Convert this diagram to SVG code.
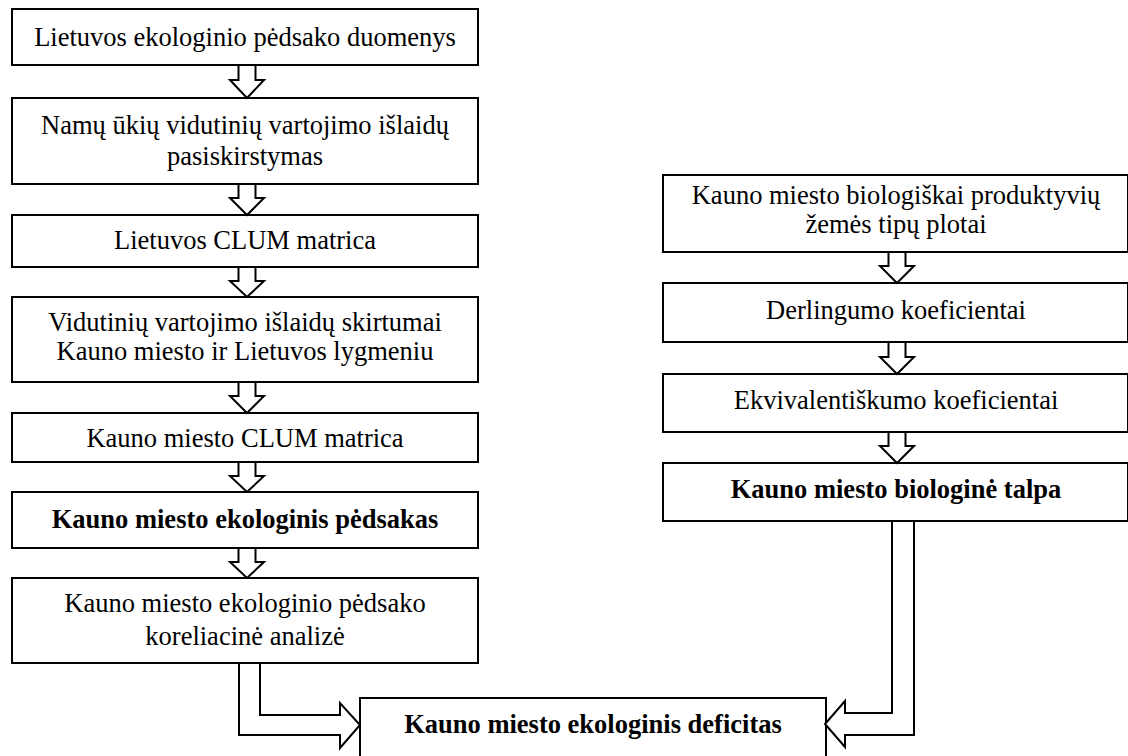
<svg xmlns="http://www.w3.org/2000/svg" width="1128" height="756" viewBox="0 0 1128 756">
<style>
.box{fill:#fff;stroke:#000;stroke-width:2}
.t{font-size:26.5px;fill:#000;text-anchor:middle}
.b{font-weight:bold}
.arr{fill:#fff;stroke:#000;stroke-width:2;stroke-linejoin:miter}
</style>
<rect width="1128" height="756" fill="#fff"/>
<g font-family="'Liberation Serif', 'Times New Roman', 'DejaVu Serif', serif">
<g id="n1"><rect class="box" x="12" y="9" width="466" height="56"/><text class="t" x="245" y="45.5">Lietuvos ekologinio pėdsako duomenys</text></g>
<g id="n2"><rect class="box" x="12" y="98" width="466" height="86"/><text class="t" x="245" y="134">Namų ūkių vidutinių vartojimo išlaidų</text><text class="t" x="245" y="165">pasiskirstymas</text></g>
<g id="n3"><rect class="box" x="12" y="215" width="466" height="52"/><text class="t" x="245" y="248.5">Lietuvos CLUM matrica</text></g>
<g id="n4"><rect class="box" x="12" y="297" width="466" height="85"/><text class="t" x="245" y="331">Vidutinių vartojimo išlaidų skirtumai</text><text class="t" x="245" y="360">Kauno miesto ir Lietuvos lygmeniu</text></g>
<g id="n5"><rect class="box" x="12" y="413" width="466" height="49"/><text class="t" x="245" y="447">Kauno miesto CLUM matrica</text></g>
<g id="n6"><rect class="box" x="12" y="492" width="466" height="56"/><text class="t b" x="245" y="528">Kauno miesto ekologinis pėdsakas</text></g>
<g id="n7"><rect class="box" x="12" y="578" width="466" height="85"/><text class="t" x="245" y="612">Kauno miesto ekologinio pėdsako</text><text class="t" x="245" y="645">koreliacinė analizė</text></g>
<g id="r1"><rect class="box" x="663" y="175" width="465" height="77"/><text class="t" x="896" y="204">Kauno miesto biologiškai produktyvių</text><text class="t" x="896" y="233">žemės tipų plotai</text></g>
<g id="r2"><rect class="box" x="663" y="283" width="465" height="59"/><text class="t" x="896" y="319">Derlingumo koeficientai</text></g>
<g id="r3"><rect class="box" x="663" y="374" width="465" height="58"/><text class="t" x="896" y="409">Ekvivalentiškumo koeficientai</text></g>
<g id="r4"><rect class="box" x="663" y="463" width="465" height="58"/><text class="t b" x="896" y="498">Kauno miesto biologinė talpa</text></g>
<g id="fin"><rect class="box" x="360" y="698" width="466" height="64"/><text class="t b" x="593" y="733">Kauno miesto ekologinis deficitas</text></g>
</g>
<g id="connectors">
<polygon class="arr" points="238.5,65 255.5,65 255.5,80 264,80 247,98 230,80 238.5,80"/>
<polygon class="arr" points="238.5,184 255.5,184 255.5,198 264,198 247,215 230,198 238.5,198"/>
<polygon class="arr" points="238.5,267 255.5,267 255.5,281 264,281 247,297 230,281 238.5,281"/>
<polygon class="arr" points="238.5,382 255.5,382 255.5,396 264,396 247,413 230,396 238.5,396"/>
<polygon class="arr" points="238.5,462 255.5,462 255.5,476 264,476 247,492 230,476 238.5,476"/>
<polygon class="arr" points="238.5,548 255.5,548 255.5,562 264,562 247,578 230,562 238.5,562"/>
<polygon class="arr" points="888.5,252 905.5,252 905.5,266 914,266 897,283 880,266 888.5,266"/>
<polygon class="arr" points="888.5,342 905.5,342 905.5,357 914,357 897,374 880,357 888.5,357"/>
<polygon class="arr" points="888.5,432 905.5,432 905.5,446 914,446 897,463 880,446 888.5,446"/>
<polygon class="arr" points="239,663 260,663 260,715 340,715 340,703 360,725 340,748 340,735 239,735"/>
<polygon class="arr" points="892,521 914,521 914,735 845,735 845,747 825,724 845,701 845,713 892,713"/>
</g>
</svg>
